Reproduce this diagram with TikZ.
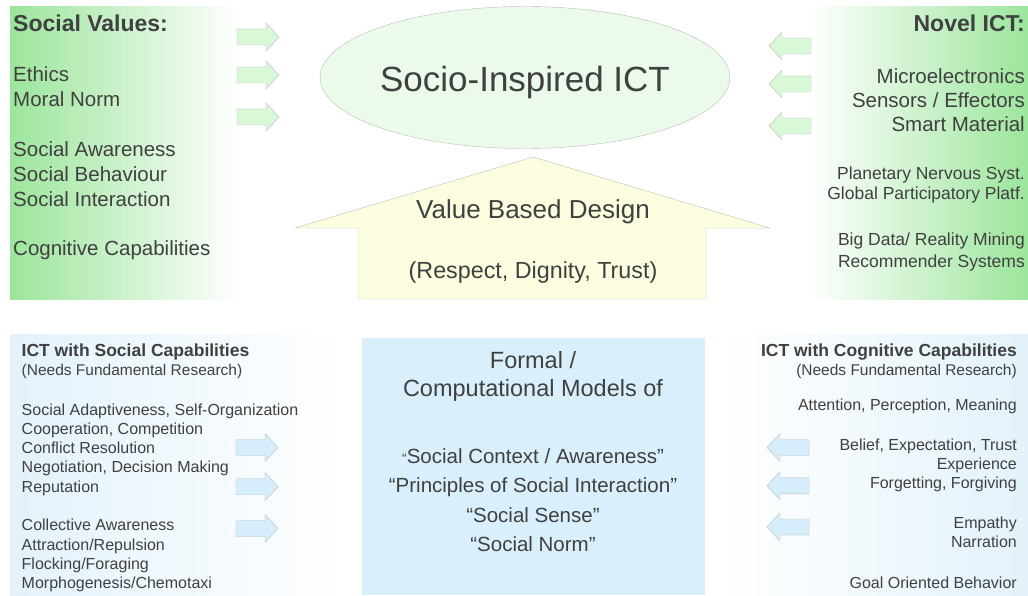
\documentclass[tikz,border=0pt]{standalone}
\usepackage{fontspec}
\setmainfont{Liberation Sans}
\usepackage{tikz}
\usetikzlibrary{positioning}
\usetikzlibrary{calc}
\usetikzlibrary{shapes.geometric}

\definecolor{txtgray}{HTML}{404040}
\definecolor{panelgreen}{HTML}{9CE59C}
\definecolor{arrowgreen}{HTML}{D8F8D8}
\definecolor{ellgreen}{HTML}{EBFAEB}
\definecolor{arrowyellow}{HTML}{FDFDE0}
\definecolor{boxblue}{HTML}{D9F0FC}
\definecolor{panelblue}{HTML}{E3F2FB}
\definecolor{arrowblue}{HTML}{D6EEFC}
\definecolor{edgegray}{HTML}{B8BEB8}

\tikzset{
  txt/.style={inner sep=0pt, text=txtgray},
  titlefont/.style={font=\bfseries\fontsize{23}{28}\selectfont},
  itemfont/.style={font=\fontsize{20.5}{25}\selectfont},
  smallfont/.style={font=\fontsize{17.5}{20}\selectfont},
  subhead/.style={font=\bfseries\fontsize{17.5}{20}\selectfont},
  notefont/.style={font=\fontsize{15.5}{19.3}\selectfont},
  tinyfont/.style={font=\fontsize{16}{19.3}\selectfont},
  blockarrow/.pic={\path[pic actions] (-21,-8) -- (8,-8) -- (8,-14) -- (21,0)
                    -- (8,14) -- (8,8) -- (-21,8) -- cycle;}
}

\begin{document}
\begin{tikzpicture}[x=1pt, y=-1pt, line join=round]
	\useasboundingbox (0,0) rectangle (1028,596);
	% panels
	\shade[left color=panelgreen, right color=white] (10,7) rectangle (240,299);
	\shade[left color=white, right color=panelgreen] (810,7) rectangle (1028,299);
	\shade[left color=panelblue, right color=white] (10,334) rectangle (345,596);
	\shade[left color=white, right color=panelblue] (720,334) rectangle (1028,596);
	\fill[boxblue] (362,338) rectangle (705,595);

	% centre
	\node[ellipse, draw=edgegray, fill=ellgreen, minimum width=410pt, minimum height=142pt,
	      txt, font=\fontsize{35}{40}\selectfont, text height=28pt, text depth=0pt] (socio) at (525,77.5) {Socio-Inspired ICT};
	\draw[draw=edgegray, fill=arrowyellow] (295,228) -- (533,157) -- (770,228) -- (706,228)
	      -- (706,299) -- (358,299) -- (358,228) -- cycle;
	\node[txt, anchor=base, font=\fontsize{26}{30}\selectfont] (vbd) at (533,218.3) {Value Based Design};
	\node[txt, anchor=base, font=\fontsize{23.3}{28}\selectfont] (rdt) at (533,278) {(Respect, Dignity, Trust)};

	% arrows
	\foreach \y in {37,75,117} \pic[draw=edgegray, fill=arrowgreen] at (258,\y) {blockarrow};
	\foreach \y in {46,84,126} \pic[draw=edgegray, fill=arrowgreen, rotate=180] at (790,\y) {blockarrow};
	\foreach \y in {447.5,486.7,528.5} \pic[draw=edgegray, fill=arrowblue] at (257,\y) {blockarrow};
	\foreach \y in {447.5,485.8,527} \pic[draw=edgegray, fill=arrowblue, rotate=180] at (788,\y) {blockarrow};

	% social values (base = last line)
	\node[txt, titlefont, anchor=base west] (sv) at (13,32) {Social Values:};
	\node[txt, itemfont, anchor=base west, align=left] (sv1) at (13,107) {Ethics\\Moral Norm};
	\node[txt, itemfont, anchor=base west, align=left] (sv2) at (13,207) {Social Awareness\\Social Behaviour\\Social Interaction};
	\node[txt, itemfont, anchor=base west] (sv3) at (13,255) {Cognitive Capabilities};

	% novel ict
	\node[txt, titlefont, anchor=base east] (ni) at (1025,32) {Novel ICT:};
	\node[txt, font=\fontsize{20.5}{24}\selectfont, anchor=base east, align=right] (ni1) at (1025,131.3) {Microelectronics\\Sensors / Effectors\\Smart Material};
	\node[txt, smallfont, anchor=base east, align=right] (ni2) at (1025,199.5) {Planetary Nervous Syst.\\Global Participatory Platf.};
	\node[txt, font=\fontsize{17.5}{21.5}\selectfont, anchor=base east, align=right] (ni3) at (1025,267.5) {Big Data/ Reality Mining\\Recommender Systems};

	% social capabilities
	\node[txt, subhead, anchor=base west] (sc) at (21.5,356.5) {ICT with Social Capabilities};
	\node[txt, notefont, anchor=base west] (scr) at (21.5,375) {(Needs Fundamental Research)};
	\node[txt, tinyfont, anchor=base west, align=left] (sc1) at (21.5,492.2) {Social Adaptiveness, Self-Organization\\Cooperation, Competition\\Conflict Resolution\\Negotiation, Decision Making\\Reputation};
	\node[txt, tinyfont, anchor=base west, align=left] (sc2) at (21.5,588.6) {Collective Awareness\\Attraction/Repulsion\\Flocking/Foraging\\Morphogenesis/Chemotaxi};

	% formal models
	\node[txt, anchor=base, align=center, font=\fontsize{23.5}{27.7}\selectfont] (fm) at (533,396) {Formal /\\Computational Models of};
	\node[txt, anchor=base, align=center, font=\fontsize{20.5}{29.4}\selectfont] (fm1) at (533,551.5)
	      {{\fontsize{14}{14}\selectfont “}Social Context / Awareness”\\“Principles of Social Interaction”\\“Social Sense”\\“Social Norm”};

	% cognitive capabilities
	\node[txt, subhead, anchor=base east] (cc) at (1017,356) {ICT with Cognitive Capabilities};
	\node[txt, notefont, anchor=base east] (ccr) at (1017,375) {(Needs Fundamental Research)};
	\node[txt, tinyfont, anchor=base east] (cc1) at (1017,410.7) {Attention, Perception, Meaning};
	\node[txt, tinyfont, anchor=base east, align=right] (cc2) at (1017,488.6) {Belief, Expectation, Trust\\Experience\\Forgetting, Forgiving};
	\node[txt, tinyfont, anchor=base east, align=right] (cc3) at (1017,547.6) {Empathy\\Narration};
	\node[txt, tinyfont, anchor=base east] (cc4) at (1017,588.3) {Goal Oriented Behavior};
\end{tikzpicture}
\end{document}
